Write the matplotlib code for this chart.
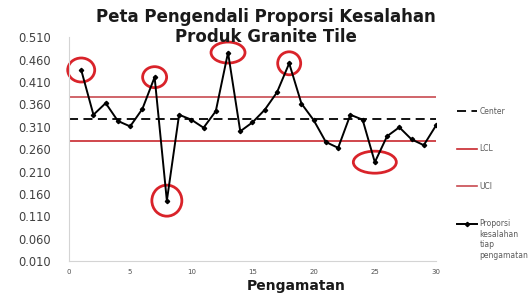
import numpy as np
import matplotlib
matplotlib.use("Agg")
import matplotlib.pyplot as plt
from matplotlib.patches import Ellipse
from matplotlib.transforms import ScaledTranslation
from matplotlib.legend_handler import HandlerLine2D

plt.rcParams['font.family'] = ['DejaVu Sans']

obs = np.arange(1, 31)
proporsi = [0.437, 0.337, 0.363, 0.323, 0.311, 0.350, 0.421, 0.145, 0.337, 0.326,
            0.308, 0.345, 0.476, 0.300, 0.320, 0.348, 0.387, 0.452, 0.362, 0.325,
            0.276, 0.263, 0.337, 0.326, 0.231, 0.289, 0.309, 0.282, 0.269, 0.313]
center = 0.3285
upper = 0.377
lower = 0.278

# out-of-control points marked with a red circle
circled = [1, 7, 8, 13, 18, 25]
# circle width/height in pixels
circle_px = {1: (27, 24), 7: (24, 21), 8: (30, 31), 13: (34, 21), 18: (23, 23), 25: (43, 22)}

yticks = np.arange(0.010, 0.511, 0.05)
xticks = [0, 5, 10, 15, 20, 25, 30]


class RaisedLine(HandlerLine2D):
    # put the handle next to the first line of a multi-line label
    def __init__(self, shift, **kw):
        super().__init__(**kw)
        self.shift = shift

    def create_artists(self, *args, **kw):
        arts = super().create_artists(*args, **kw)
        for a in arts:
            a.set_ydata(np.asarray(a.get_ydata()) + self.shift)
        return arts


fig = plt.figure(figsize=(5.29, 2.94), dpi=100)
ax = fig.add_axes([0.1304, 0.112, 0.6938, 0.761])

red = '#c8282d'
ax.axhline(center, color='black', lw=1.3, ls=(0, (5, 3)), label='Center')
ax.axhline(lower, color=red, lw=1.2, label='LCL')
ax.axhline(upper, color='#c84a50', lw=1.2, label='UCI')
data_line, = ax.plot(obs, proporsi, color='black', lw=1.4, marker='D', ms=2.2,
                     label='Proporsi\nkesalahan\ntiap\npengamatan')

for k in circled:
    w, h = circle_px[k]
    tr = fig.dpi_scale_trans + ScaledTranslation(k, proporsi[k - 1], ax.transData)
    ax.add_patch(Ellipse((0, 0), w / 100, h / 100, transform=tr, fill=False,
                         ec='#d9232a', lw=2.0, clip_on=False))

ax.set_xlim(0, 30)
ax.set_ylim(0.010, 0.510)
ax.set_yticks(yticks)
ax.set_yticklabels([f"{v:.3f}" for v in yticks], fontsize=8.3, color='#404040')
ax.set_xticks(xticks)
ax.set_xticklabels([str(v) for v in xticks], fontsize=5, color='#505050')
ax.tick_params(axis='y', length=0, pad=13)
ax.tick_params(axis='x', length=0, pad=5.5)

for s in ['top', 'right']:
    ax.spines[s].set_visible(False)
for s in ['left', 'bottom']:
    ax.spines[s].set_color('#d4d4d4')

# axis title is centred on the whole plot area (axes + legend), as in Excel
fig.text(0.559, 0.012, 'Pengamatan', ha='center', va='baseline',
         fontsize=10, fontweight='bold', color='#1a1a1a')
fig.text(0.503, 0.972, 'Peta Pengendali Proporsi Kesalahan\nProduk Granite Tile',
         ha='center', va='top', fontsize=12, fontweight='bold', color='#1a1a1a',
         linespacing=1.12)

leg = ax.legend(loc='upper left', bbox_to_anchor=(0.859, 0.648),
                bbox_transform=fig.transFigure, frameon=False, fontsize=5.5,
                labelspacing=3.75, handlelength=2.6, handletextpad=0.3,
                borderaxespad=0, handler_map={data_line: RaisedLine(12)})
for t in leg.get_texts():
    t.set_color('#5a5a5a')

fig.savefig('out.png', dpi=100)
